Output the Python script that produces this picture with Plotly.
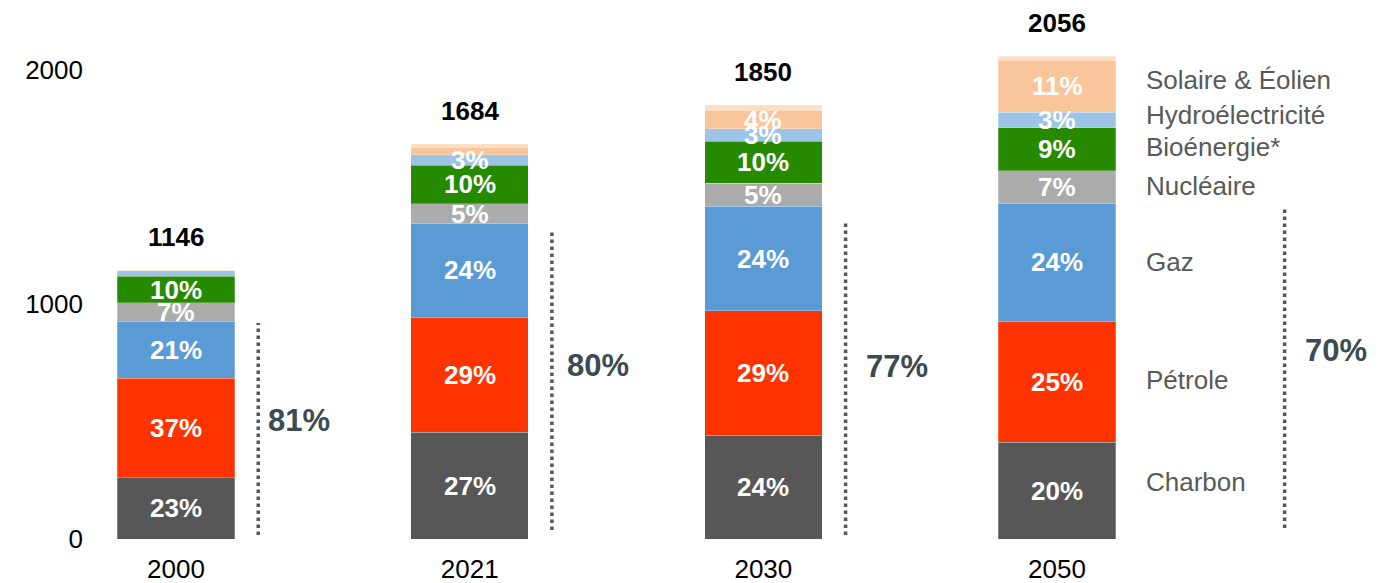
import plotly.graph_objects as go

# ---------------- data ----------------
years = ["2000", "2021", "2030", "2050"]
totals = [1146, 1684, 1850, 2056]

charbon = [262, 455, 442, 412]
petrole = [424, 490, 530, 514]
gaz = [240, 400, 445, 505]
nucleaire = [80, 83, 98, 138]
bioenergie = [114, 165, 180, 184]
hydro = [22, 45, 52, 66]
solaire_eolien = [2, 32, 80, 220]
autres = [2, 14, 23, 17]

pct_charbon = ["23%", "27%", "24%", "20%"]
pct_petrole = ["37%", "29%", "29%", "25%"]
pct_gaz = ["21%", "24%", "24%", "24%"]
pct_nucleaire = ["7%", "5%", "5%", "7%"]
pct_bio = ["10%", "10%", "10%", "9%"]
pct_hydro = [None, "3%", "3%", "3%"]
pct_solaire = [None, None, "4%", "11%"]

fossil_share = ["81%", "80%", "77%", "70%"]

y_ticks = [0, 1000, 2000]

series = [
    ("Charbon", charbon, pct_charbon, "#575757"),
    ("Pétrole", petrole, pct_petrole, "#FF3300"),
    ("Gaz", gaz, pct_gaz, "#5B9BD5"),
    ("Nucléaire", nucleaire, pct_nucleaire, "#ABABAB"),
    ("Bioénergie*", bioenergie, pct_bio, "#268A00"),
    ("Hydroélectricité", hydro, pct_hydro, "#9DC3E6"),
    ("Solaire & Éolien", solaire_eolien, pct_solaire, "#F9C59A"),
    ("Autres", autres, [None] * 4, "#FDDFC6"),
]

# right-hand category labels (label, y position in data units)
side_labels = [
    ("Solaire & Éolien", 1956), ("Hydroélectricité", 1807), ("Bioénergie*", 1670),
    ("Nucléaire", 1504), ("Gaz", 1180), ("Pétrole", 677), ("Charbon", 243),
]

# fossil-share brackets: x offset from bar centre, y from, y to, text x offset, text y
brackets = [
    (0.28, 17, 920, 0.42, 503),
    (0.28, 38, 1317, 0.436, 741),
    (0.28, 17, 1359, 0.456, 733),
    (0.775, 47, 1415, 0.95, 805),
]

FONT = "Arial, Liberation Sans, sans-serif"
xs = list(range(len(years)))

fig = go.Figure()
annotations = []
base = [0] * len(years)
for name, vals, pcts, color in series:
    fig.add_trace(go.Bar(
        x=xs, y=vals, name=name, marker_color=color,
        marker_line=dict(color="rgba(255,255,255,0.5)", width=0.5),
        width=0.4, showlegend=False, hoverinfo="y+name",
    ))
    for i, (v, p) in enumerate(zip(vals, pcts)):
        if p:
            annotations.append(dict(
                x=xs[i], y=base[i] + v / 2, text=p, showarrow=False,
                font=dict(family=FONT, size=26, color="white", weight="bold"),
                xanchor="center", yanchor="middle",
            ))
    base = [b + v for b, v in zip(base, vals)]

# totals above bars
for i, t in enumerate(totals):
    annotations.append(dict(
        x=xs[i], y=t, text=str(t), showarrow=False, yshift=33,
        font=dict(family=FONT, size=26, color="black", weight="bold"),
        xanchor="center", yanchor="middle",
    ))

# fossil brackets
for i, (dx, y0, y1, tx, ty) in enumerate(brackets):
    fig.add_trace(go.Scatter(
        x=[xs[i] + dx, xs[i] + dx], y=[y0, y1], mode="lines",
        line=dict(color="#4F5A5E", width=3.5, dash="dot"),
        showlegend=False, hoverinfo="skip",
    ))
    annotations.append(dict(
        x=xs[i] + tx, y=ty, text=fossil_share[i], showarrow=False,
        font=dict(family=FONT, size=31, color="#3D4A4F", weight="bold"),
        xanchor="center", yanchor="middle",
    ))

# side labels
for lab, yv in side_labels:
    annotations.append(dict(
        x=3.297, y=yv, text=lab, showarrow=False,
        font=dict(family=FONT, size=26, color="#595959"),
        xanchor="left", yanchor="middle",
    ))

fig.update_layout(
    barmode="stack",
    width=1380, height=583,
    margin=dict(l=76, r=8, t=2, b=52),
    paper_bgcolor="white", plot_bgcolor="white",
    annotations=annotations,
    font=dict(family=FONT, color="black"),
    xaxis=dict(
        range=[-0.3133, 4.0998], tickvals=xs, ticktext=years,
        showgrid=False, zeroline=False, showline=False, ticks="",
        tickfont=dict(size=26, color="black"), ticklabelstandoff=12,
    ),
    yaxis=dict(
        range=[0, 2254], tickvals=y_ticks, showgrid=False, zeroline=False,
        showline=False, ticks="", tickfont=dict(size=26, color="black"),
    ),
)

fig.write_html("out.html")
